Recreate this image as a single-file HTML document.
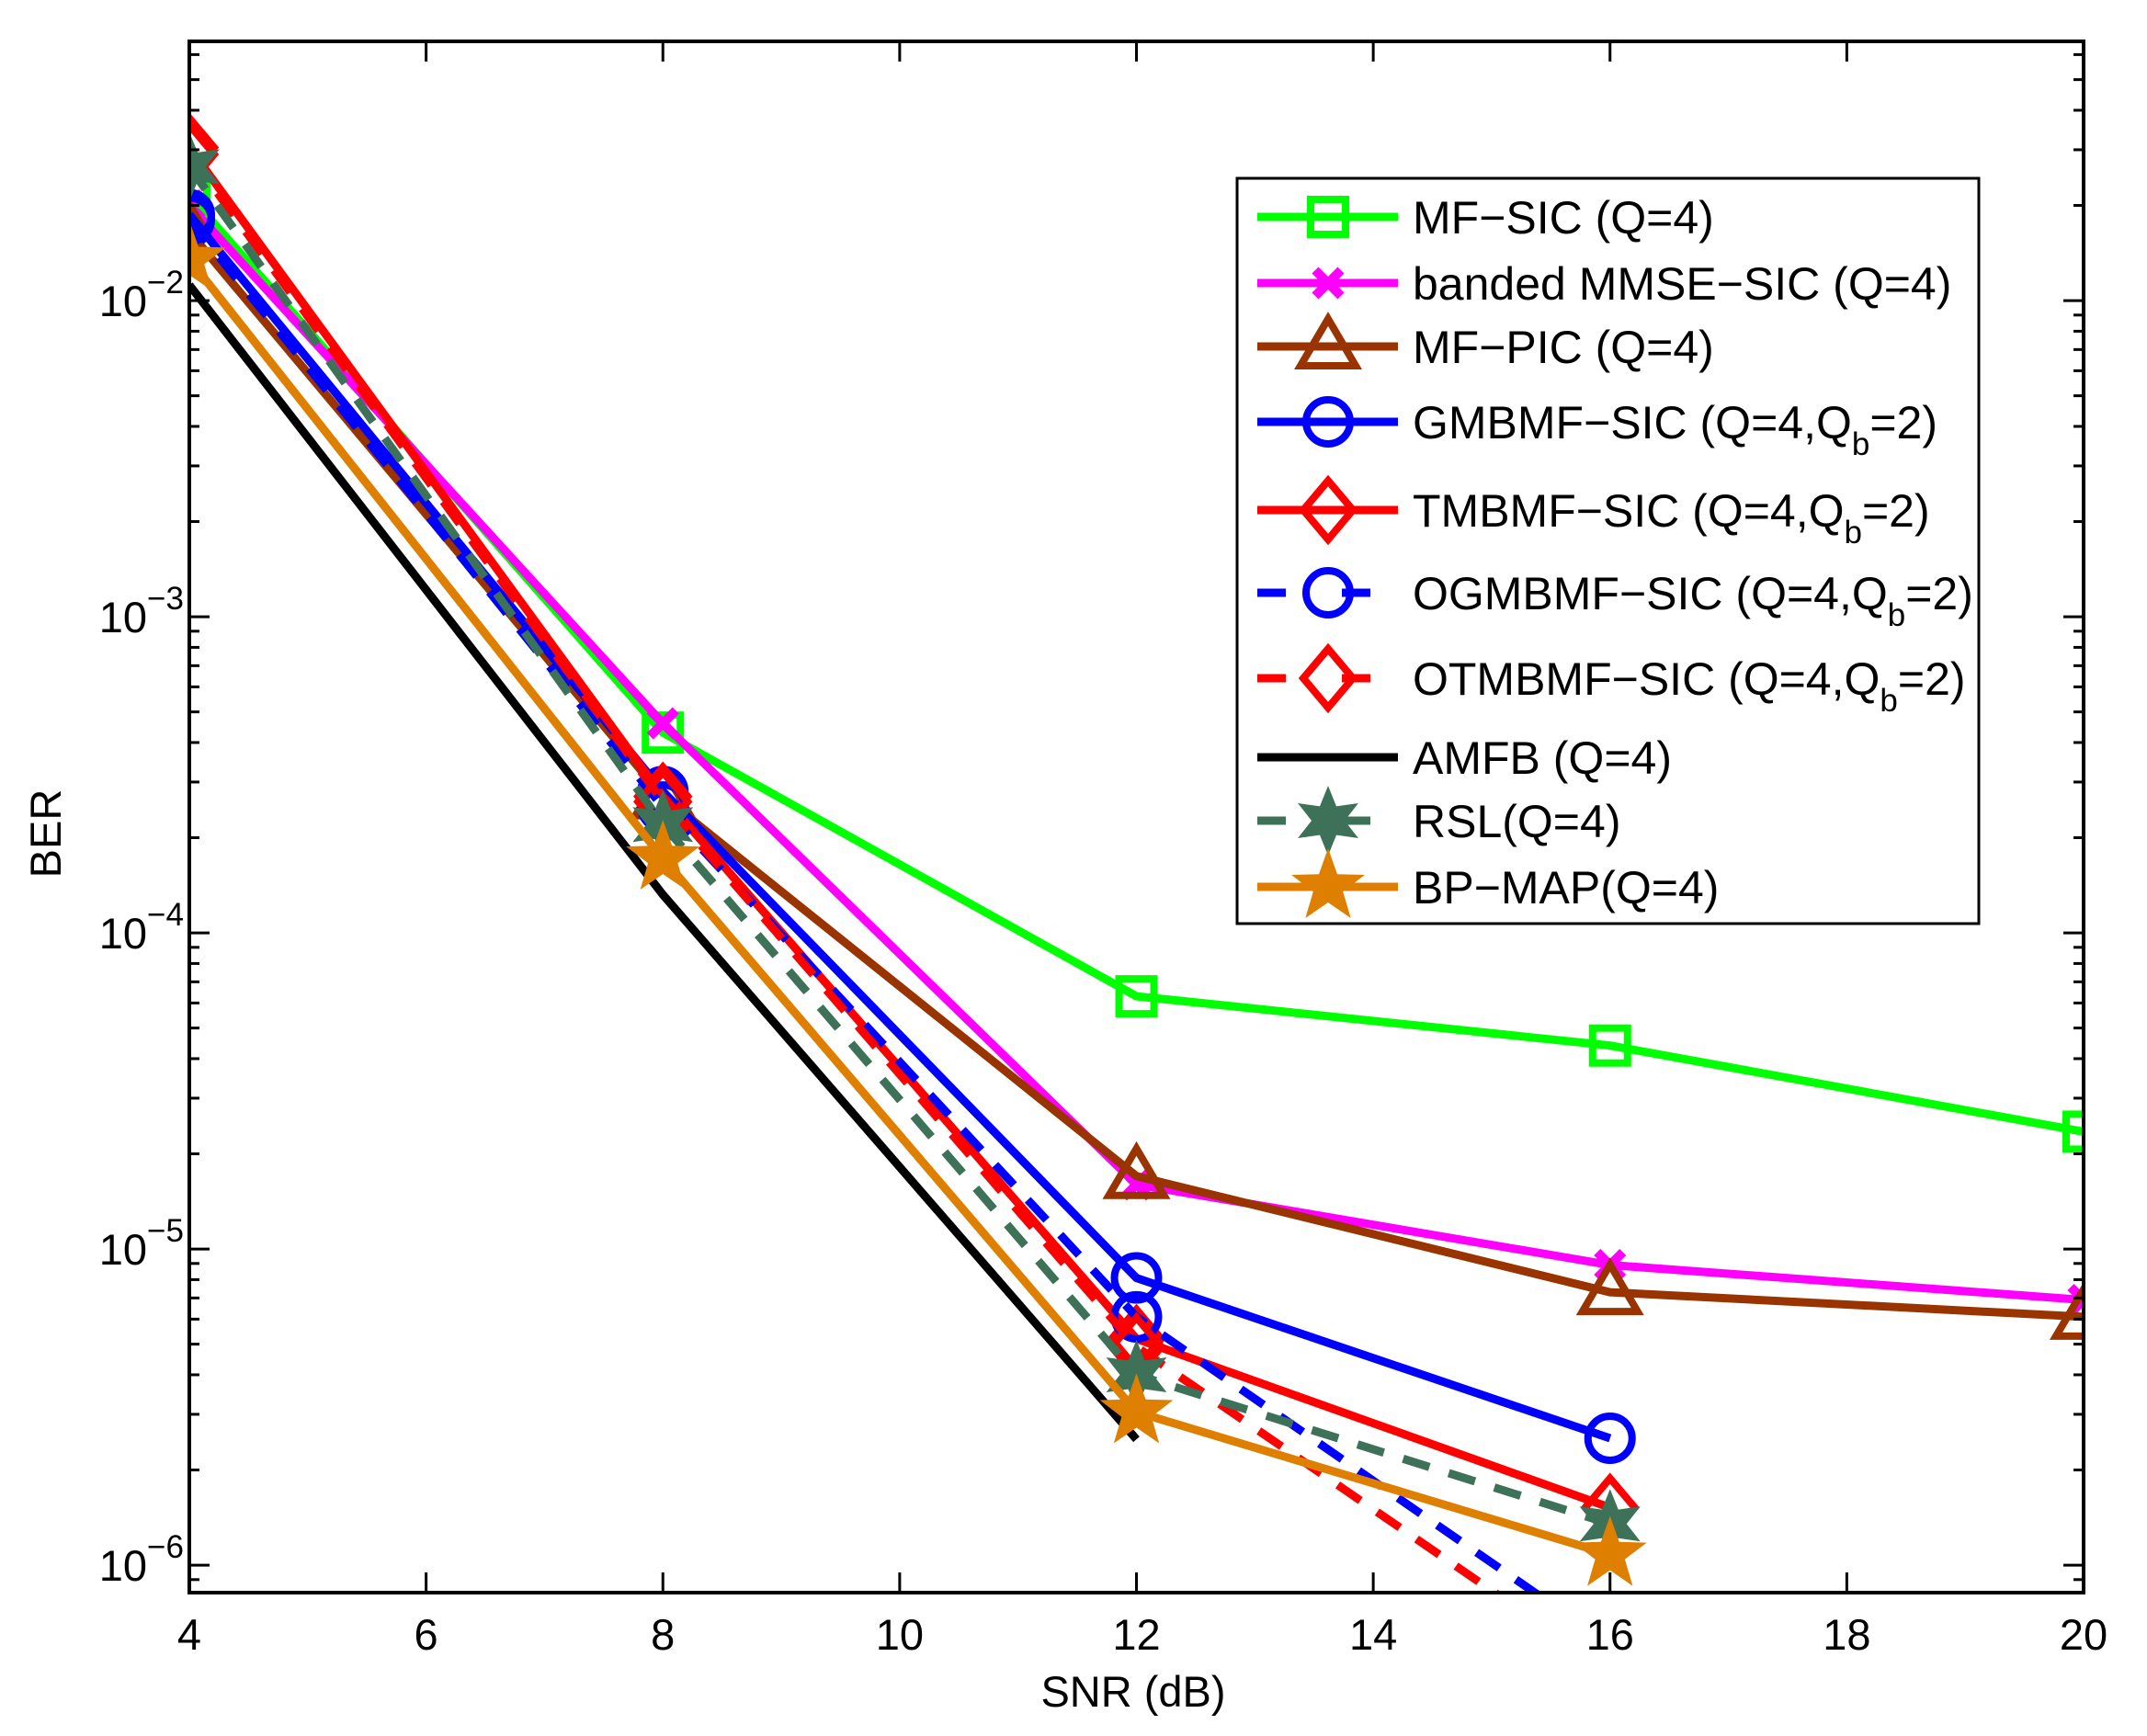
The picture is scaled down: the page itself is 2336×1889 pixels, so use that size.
<!DOCTYPE html>
<html><head><meta charset="utf-8"><style>
html,body{margin:0;padding:0;background:#fff;}
svg{display:block;font-family:"Liberation Sans",Arial,sans-serif;}
</style></head><body>
<svg id="chart" width="2336" height="1889" viewBox="0 0 2336 1889" xmlns="http://www.w3.org/2000/svg">
<rect x="0" y="0" width="2336" height="1889" fill="#fff"/>
<defs><clipPath id="plotclip"><rect x="206" y="45" width="2061" height="1688"/></clipPath></defs>
<g id="series" clip-path="url(#plotclip)"></g>
<g id="axes"></g>
<g id="legend"></g>
</svg>
<script>
const snr = [4, 8, 12, 16, 20];
const xTicks = [4, 6, 8, 10, 12, 14, 16, 18, 20];
const yDecades = [-2, -3, -4, -5, -6];
const mfSic = [0.0215, 4.3e-4, 6.3e-5, 4.4e-5, 2.35e-5];
const bandedMmse = [0.020, 4.6e-4, 1.6e-5, 8.9e-6, 6.9e-6];
const mfPic = [0.0165, 2.7e-4, 1.7e-5, 7.3e-6, 6.1e-6];
const gmbmf = [0.0187, 2.8e-4, 8.1e-6, 2.52e-6];
const tmbmf = [0.0305, 2.7e-4, 5.2e-6, 1.52e-6];
const ogmbmf = [0.018, 2.5e-4, 6.1e-6, 5.6e-7];
const otmbmf = [0.029, 2.6e-4, 4.9e-6, 4.6e-7];
const amfb = [0.0112, 1.32e-4, 2.5e-6];
const rsl = [0.0265, 2.2e-4, 4.0e-6, 1.35e-6];
const bpMap = [0.0135, 1.72e-4, 3.05e-6, 1.08e-6];

const L=206,R=2267,T=45,B=1733;
const xMin=4,xMax=20, yTop=-1.18, yBot=-6.087;
function sx(v){return L+(v-xMin)/(xMax-xMin)*(R-L);}
function sy(v){return T+(yTop-Math.log10(v))/(yTop-yBot)*(B-T);}
const NS="http://www.w3.org/2000/svg";
function mk(tag,attrs,parent){const e=document.createElementNS(NS,tag);for(const k in attrs)e.setAttribute(k,attrs[k]);parent.appendChild(e);return e;}

const seriesDefs=[
 {name:"mf-sic",label:["MF−SIC (Q=4)"],data:mfSic,color:"#00ff00",dash:null,marker:"square"},
 {name:"banded-mmse-sic",label:["banded MMSE−SIC (Q=4)"],data:bandedMmse,color:"#ff00ff",dash:null,marker:"x"},
 {name:"mf-pic",label:["MF−PIC (Q=4)"],data:mfPic,color:"#993300",dash:null,marker:"tri"},
 {name:"gmbmf-sic",label:["GMBMF−SIC (Q=4,Q","=2)"],data:gmbmf,color:"#0000ff",dash:null,marker:"circle"},
 {name:"tmbmf-sic",label:["TMBMF−SIC (Q=4,Q","=2)"],data:tmbmf,color:"#ff0000",dash:null,marker:"diamond"},
 {name:"ogmbmf-sic",label:["OGMBMF−SIC (Q=4,Q","=2)"],data:ogmbmf,color:"#0000ff",dash:"30 22",marker:"circle"},
 {name:"otmbmf-sic",label:["OTMBMF−SIC (Q=4,Q","=2)"],data:otmbmf,color:"#ff0000",dash:"30 22",marker:"diamond"},
 {name:"amfb",label:["AMFB (Q=4)"],data:amfb,color:"#000000",dash:null,marker:null},
 {name:"rsl",label:["RSL(Q=4)"],data:rsl,color:"#3d7259",dash:"30 22",marker:"hexstar"},
 {name:"bp-map",label:["BP−MAP(Q=4)"],data:bpMap,color:"#de7f00",dash:null,marker:"pentstar"}
];

function drawMarker(type,x,y,color,parent){
  let e;
  if(type==="square"){e=mk("rect",{x:x-19,y:y-19,width:38,height:38,fill:"none",stroke:color,"stroke-width":8},parent);}
  else if(type==="x"){e=mk("path",{d:`M${x-14},${y-14}L${x+14},${y+14}M${x-14},${y+14}L${x+14},${y-14}`,stroke:color,"stroke-width":10,fill:"none"},parent);}
  else if(type==="tri"){e=mk("polygon",{points:`${x},${y-30} ${x+30},${y+21} ${x-30},${y+21}`,fill:"none",stroke:color,"stroke-width":8},parent);}
  else if(type==="circle"){e=mk("circle",{cx:x,cy:y,r:24,fill:"none",stroke:color,"stroke-width":8},parent);}
  else if(type==="diamond"){e=mk("polygon",{points:`${x},${y-32} ${x+27},${y} ${x},${y+32} ${x-27},${y}`,fill:"none",stroke:color,"stroke-width":8},parent);}
  else if(type==="hexstar"){let p=[];for(let i=0;i<12;i++){const a=-Math.PI/2+i*Math.PI/6;const r=i%2?18:38;p.push((x+r*Math.cos(a)).toFixed(1)+","+(y+r*Math.sin(a)).toFixed(1));}e=mk("polygon",{points:p.join(" "),fill:color},parent);}
  else if(type==="pentstar"){let p=[];for(let i=0;i<10;i++){const a=-Math.PI/2+i*Math.PI/5;const r=i%2?17:42;p.push((x+r*Math.cos(a)).toFixed(1)+","+(y+r*Math.sin(a)).toFixed(1));}e=mk("polygon",{points:p.join(" "),fill:color},parent);}
  return e;
}

const sg=document.getElementById("series");
seriesDefs.forEach(s=>{
  const g=mk("g",{},sg);
  
  
  const pts=s.data.map((v,i)=>sx(snr[i]).toFixed(1)+","+sy(v).toFixed(1)).join(" ");
  const pl=mk("polyline",{points:pts,fill:"none",stroke:s.color,"stroke-width":9,"stroke-linejoin":"miter"},g);
  if(s.dash)pl.setAttribute("stroke-dasharray",s.dash);
  
  
  if(s.marker){s.data.forEach((v,i)=>{const m=drawMarker(s.marker,sx(snr[i]),sy(v),s.color,g);
    
    });}
});

const ag=document.getElementById("axes");
const frame=mk("rect",{x:L,y:T,width:R-L,height:B-T,fill:"none",stroke:"#000","stroke-width":4},ag);


xTicks.forEach(t=>{
  const x=sx(t);
  mk("line",{x1:x,y1:B,x2:x,y2:B-22,stroke:"#000","stroke-width":3},ag);
  mk("line",{x1:x,y1:T,x2:x,y2:T+22,stroke:"#000","stroke-width":3},ag);
  const tx=mk("text",{x:x,y:B+62,"text-anchor":"middle","font-size":47,fill:"#000"},ag);
  tx.textContent=t;
  
  
});
for(let d=-7;d<=-1;d++){
  for(let m=1;m<=9;m++){
    const v=m*Math.pow(10,d);const y=sy(v);
    if(y<T-1||y>B+1)continue;
    const len=m===1?22:11;
    mk("line",{x1:L,y1:y,x2:L+len,y2:y,stroke:"#000","stroke-width":3},ag);
    mk("line",{x1:R,y1:y,x2:R-len,y2:y,stroke:"#000","stroke-width":3},ag);
  }
}
yDecades.forEach(d=>{
  const y=sy(Math.pow(10,d));
  const tx=mk("text",{x:160,y:y+17,"text-anchor":"end","font-size":47,fill:"#000"},ag);
  tx.textContent="10";
  
  
  const sup=mk("text",{x:160,y:y-8,"text-anchor":"start","font-size":35,fill:"#000"},ag);
  sup.textContent=String(d).replace("-","−");
  
  
});
const xl=mk("text",{x:1233,y:1857,"text-anchor":"middle","font-size":47,fill:"#000"},ag);
xl.textContent="SNR (dB)";


const yl=mk("text",{x:0,y:0,"text-anchor":"middle","font-size":47,fill:"#000",transform:"translate(66,907) rotate(-90)"},ag);
yl.textContent="BER";



const lg=document.getElementById("legend");
const lb=mk("rect",{x:1346,y:194,width:807,height:811,fill:"#fff",stroke:"#000","stroke-width":3},lg);


const legY=[236,308,377,459,555,645,738,824,893,965];
seriesDefs.forEach((s,i)=>{
  const y=legY[i];
  const g=mk("g",{},lg);
  
  
  const ln=mk("line",{x1:1368,y1:y,x2:1521,y2:y,stroke:s.color,"stroke-width":9},g);
  if(s.dash)ln.setAttribute("stroke-dasharray","31 61");
  if(s.marker)drawMarker(s.marker,1445,y,s.color,g);
  const t=mk("text",{x:1537,y:y+18,"font-size":50,fill:"#000"},g);
  if(s.label.length===1){t.textContent=s.label[0];}
  else{
    const a=mk("tspan",{},t);a.textContent=s.label[0];
    const b=mk("tspan",{"font-size":35,dy:18},t);b.textContent="b";
    const c=mk("tspan",{dy:-18},t);c.textContent=s.label[1];
  }
});
</script>
</body></html>
